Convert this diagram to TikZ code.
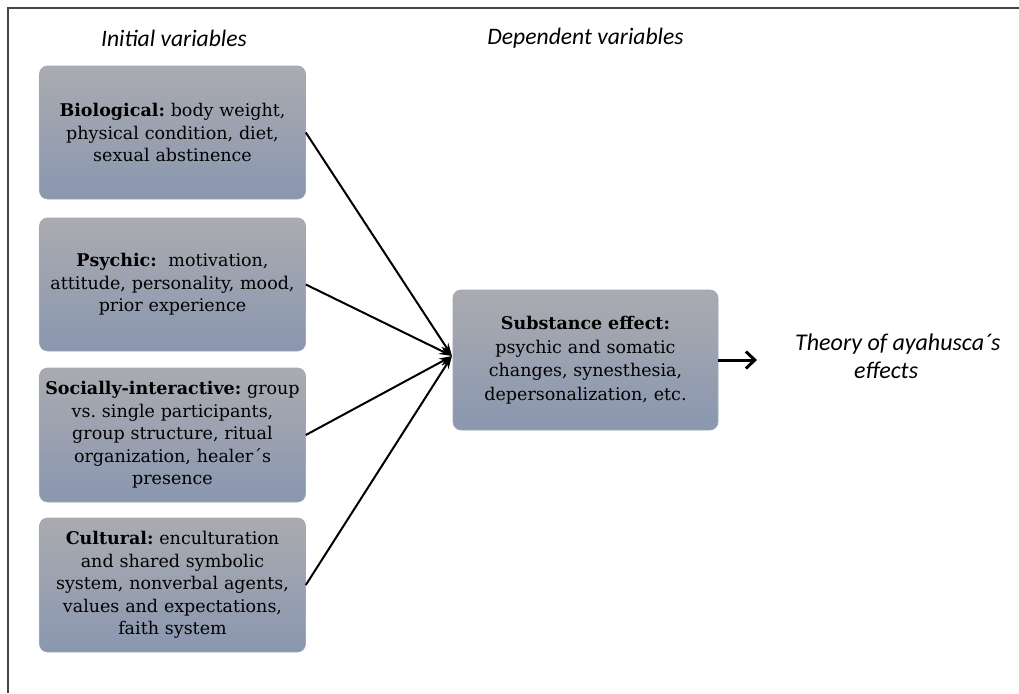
\documentclass[tikz,border=0pt]{standalone}
\usepackage{fontspec}
\setmainfont{DejaVu Serif}
\newfontfamily\headfont{Carlito}
\usetikzlibrary{arrows.meta}
\definecolor{boxtop}{RGB}{170,171,176}
\definecolor{boxbot}{RGB}{138,151,176}
\definecolor{boxline}{RGB}{160,166,180}
\definecolor{framegray}{RGB}{70,70,70}
\tikzset{
  varbox/.style={rectangle, rounded corners=8pt, top color=boxtop, bottom color=boxbot,
    draw=boxline, line width=0.6pt, align=center, inner sep=2pt,
    font=\fontsize{17.5}{22.5}\selectfont\frenchspacing},
  head/.style={font=\headfont\itshape\fontsize{23.6}{26}\selectfont, inner sep=0pt},
  theory/.style={font=\headfont\itshape\fontsize{24}{26}\selectfont, inner sep=0pt, anchor=west},
  conn/.style={line width=2pt, -{Stealth[length=13pt,width=8pt]}},
  outarrow/.style={line width=3pt, -{Straight Barb[length=9pt,width=17pt]}}
}
\begin{document}
\begin{tikzpicture}[x=1pt,y=-1pt]
\useasboundingbox (0,0) rectangle (1019,693);
\fill[white] (0,0) rectangle (1019,693);
\draw[framegray, line width=1.6pt] (8,693) -- (8,8) -- (1019,8);

\node[head] (hinit) at (174,38) {Initial variables};
\node[head] (hdep) at (585.5,38) {Dependent variables};

\node[varbox, minimum width=265pt, minimum height=133pt, text width=262pt] (bio) at (172.5,132.5)
  {\textbf{Biological:} body weight,\\ physical condition, diet,\\ sexual abstinence};
\node[varbox, minimum width=265pt, minimum height=133pt, text width=262pt] (psy) at (172.5,284.5)
  {\textbf{Psychic:}~ motivation,\\ attitude, personality, mood,\\ prior experience};
\node[varbox, minimum width=265pt, minimum height=134pt, text width=262pt] (soc) at (172.5,435)
  {\textbf{Socially-interactive:} group\\ vs. single participants,\\ group structure, ritual\\ organization, healer´s\\ presence};
\node[varbox, minimum width=265pt, minimum height=134pt, text width=262pt] (cul) at (172.5,585)
  {\textbf{Cultural:} enculturation\\ and shared symbolic\\ system, nonverbal agents,\\ values and expectations,\\ faith system};

\node[varbox, minimum width=265pt, minimum height=140pt, text width=260pt,
      font=\fontsize{17.5}{23.5}\selectfont\frenchspacing] (sub) at (585.5,360)
  {\textbf{Substance effect:}\\ psychic and somatic\\ changes, synesthesia,\\ depersonalization, etc.};

\coordinate (conv) at (452,356);
\draw[conn] (bio.east) -- (conv);
\draw[conn] (psy.east) -- (conv);
\draw[conn] (soc.east) -- (conv);
\draw[conn] (cul.east) -- (conv);

\coordinate (outend) at (757,360);
\draw[outarrow] (sub.east) -- (outend);

\node[theory] (theory1) at (795,344) {Theory of ayahusca´s};
\node[theory] (theory2) at (854,370) {effects};
\end{tikzpicture}
\end{document}
